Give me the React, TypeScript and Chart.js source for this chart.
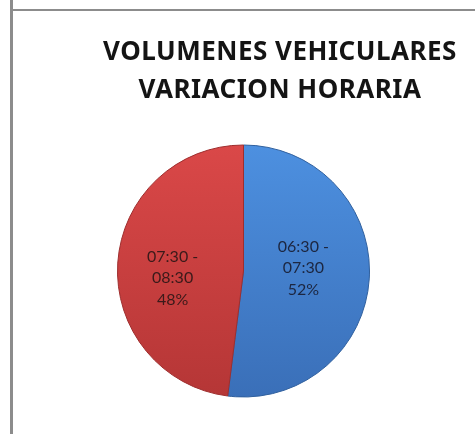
import React, { useEffect, useRef } from 'react';
import { Chart, registerables } from 'chart.js';

Chart.register(...registerables);

const TITLE_LINES = ['VOLUMENES VEHICULARES', 'VARIACION HORARIA'];
const CATEGORIES = ['06:30 - 07:30', '07:30 - 08:30'];
const VALUES = [52, 48];
const LABEL_LINES = [
  ['06:30 -', '07:30'],
  ['07:30 -', '08:30'],
];

const TOP_COLORS = ['#4d90e0', '#da4848'];
const BOTTOM_COLORS = ['#3a6fb8', '#b53636'];
const BORDER_COLORS = ['#30609e', '#9e2e2e'];
const LABEL_COLORS = ['#1c2640', '#3a1a1a'];
const LABEL_NUDGE = [
  { dx: -3, dy: -7 },
  { dx: -8, dy: 11 },
];

const sliceLabelPlugin = {
  id: 'sliceLabels',
  afterDatasetsDraw(chart: any) {
    const meta = chart.getDatasetMeta(0);
    const data = chart.data.datasets[0].data as number[];
    const total = data.reduce((a, b) => a + b, 0);
    const ctx = chart.ctx;
    ctx.save();
    ctx.font = '16px Lato, "Noto Sans", sans-serif';
    ctx.textAlign = 'center';
    ctx.textBaseline = 'middle';
    const lineH = 21.5;
    meta.data.forEach((arc: any, i: number) => {
      const p = arc.tooltipPosition();
      const x = p.x + LABEL_NUDGE[i].dx;
      const y = p.y + LABEL_NUDGE[i].dy;
      const pct = Math.round((data[i] / total) * 100) + '%';
      const lines = [...LABEL_LINES[i], pct];
      ctx.fillStyle = LABEL_COLORS[i];
      const startY = y - ((lines.length - 1) * lineH) / 2;
      lines.forEach((t, k) => ctx.fillText(t, x, startY + k * lineH));
    });
    ctx.restore();
  },
};

export default function App() {
  const ref = useRef<HTMLCanvasElement | null>(null);

  useEffect(() => {
    if (!ref.current) return;
    const chart = new Chart(ref.current, {
      type: 'pie',
      data: {
        labels: CATEGORIES,
        datasets: [
          {
            data: VALUES,
            backgroundColor: (c: any) => {
              const area = c.chart.chartArea;
              const i = c.dataIndex ?? 0;
              if (!area) return TOP_COLORS[i];
              const g = c.chart.ctx.createLinearGradient(0, area.top, 0, area.bottom);
              g.addColorStop(0, TOP_COLORS[i]);
              g.addColorStop(1, BOTTOM_COLORS[i]);
              return g;
            },
            borderColor: BORDER_COLORS,
            borderWidth: 1,
          },
        ],
      },
      options: {
        animation: false,
        responsive: false,
        maintainAspectRatio: false,
        layout: { padding: { left: 117, right: 105, top: 144, bottom: 36 } },
        plugins: {
          legend: { display: false },
          title: { display: false },
          tooltip: { enabled: false },
        },
      },
      plugins: [sliceLabelPlugin],
    });
    return () => chart.destroy();
  }, []);

  return (
    <div style={{ position: 'fixed', left: 0, top: 0, width: 475, height: 434, background: '#fff', overflow: 'hidden' }}>
      <div style={{ position: 'absolute', left: 10, top: 0, width: 3, height: 434, background: '#8c8c8c' }} />
      <div style={{ position: 'absolute', left: 12, top: 9, width: 463, height: 2, background: '#8c8c8c' }} />
      <canvas ref={ref} width={475} height={434} style={{ position: 'absolute', left: 0, top: 0, width: 475, height: 434 }} />
      <div
        style={{
          position: 'absolute',
          left: 80,
          width: 400,
          top: 32,
          textAlign: 'center',
          fontFamily: '"Noto Sans", Lato, sans-serif',
          fontWeight: 700,
          fontSize: 26,
          lineHeight: '37.5px',
          letterSpacing: '0.5px',
          color: '#141414',
          whiteSpace: 'nowrap',
        }}
      >
        {TITLE_LINES.map((t) => (
          <div key={t}>{t}</div>
        ))}
      </div>
    </div>
  );
}
